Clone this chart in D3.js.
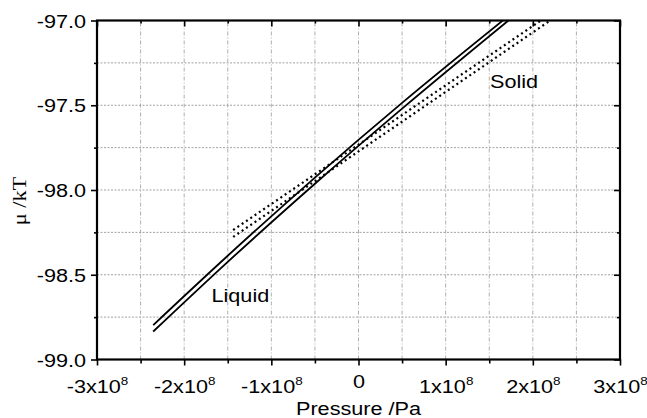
<!DOCTYPE html>
<html>
<head>
<meta charset="utf-8">
<script src="https://cdn.jsdelivr.net/npm/d3@7"></script>
<style>
  body { margin: 0; background: #fff; }
  text { font-family: "Liberation Sans", Arial, Helvetica, sans-serif; fill: #000; }
</style>
</head>
<body>
<div id="chart"></div>
<script>
// values (pressure in Pa, mu in kT)
const xMajor = [-3e8, -2e8, -1e8, 0, 1e8, 2e8, 3e8];
const xMinor = [-2.5e8, -1.5e8, -0.5e8, 0.5e8, 1.5e8, 2.5e8];
const yMajor = [-99.0, -98.5, -98.0, -97.5, -97.0];
const yMinor = [-98.75, -98.25, -97.75, -97.25];

const liquidUpperP = [-2.355e8, -1.5e8, -0.5e8, 0.5e8, 1.656e8];
const liquidUpperMu = [-98.797, -98.388, -97.927, -97.486, -97.0];
const liquidLowerP = [-2.355e8, -1.5e8, -0.5e8, 0.5e8, 1.72e8];
const liquidLowerMu = [-98.835, -98.424, -97.963, -97.52, -97.0];

const solidUpperP = [-1.438e8, 2.092e8];
const solidUpperMu = [-98.236, -97.0];
const solidLowerP = [-1.438e8, 2.2e8];
const solidLowerMu = [-98.277, -97.0];

const W = 647, H = 418;
const margin = { top: 20.5, left: 97, right: 27, bottom: 58.5 };
const sx = 1.17; // wide lettering of the original

const svg = d3.select('#chart').append('svg')
    .attr('width', W)
    .attr('height', H);

const x = d3.scaleLinear().domain([-3e8, 3e8]).range([margin.left, W - margin.right]);
const y = d3.scaleLinear().domain([-99, -97]).range([H - margin.bottom, margin.top]);

const x0 = x.range()[0], x1 = x.range()[1], y0 = y.range()[0], y1 = y.range()[1];

// grid
svg.append('g').selectAll('line')
  .data(yMinor.concat(yMajor.slice(1, -1)))
  .enter().append('line')
    .attr('x1', x0).attr('x2', x1)
    .attr('y1', d => y(d)).attr('y2', d => y(d))
    .attr('stroke', '#8a8a8a').attr('stroke-width', 0.8)
    .attr('stroke-dasharray', '2,1.5');

svg.append('g').selectAll('line')
  .data(xMinor.concat(xMajor.slice(1, -1)))
  .enter().append('line')
    .attr('x1', d => x(d)).attr('x2', d => x(d))
    .attr('y1', y0).attr('y2', y1)
    .attr('stroke', '#9a9a9a').attr('stroke-width', 0.8)
    .attr('stroke-dasharray', '4,2,1,2');

// curves
svg.append('clipPath').attr('id', 'clip')
  .append('rect').attr('x', x0).attr('y', y1).attr('width', x1 - x0).attr('height', y0 - y1);

const line = d3.line().x(d => x(d[0])).y(d => y(d[1])).curve(d3.curveMonotoneX);
const zip = (a, b) => a.map((v, i) => [v, b[i]]);

const curves = [
  { pts: zip(liquidUpperP, liquidUpperMu), dash: null },
  { pts: zip(liquidLowerP, liquidLowerMu), dash: null },
  { pts: zip(solidUpperP, solidUpperMu), dash: '2,3.2' },
  { pts: zip(solidLowerP, solidLowerMu), dash: '2,3.2' }
];

svg.append('g').attr('clip-path', 'url(#clip)')
  .selectAll('path').data(curves)
  .enter().append('path')
    .attr('d', d => line(d.pts))
    .attr('fill', 'none')
    .attr('stroke', '#000')
    .attr('stroke-width', d => d.dash ? 2.2 : 1.8)
    .attr('stroke-dasharray', d => d.dash);

// axes
function plain(g) {
  g.select('.domain').remove();
  g.selectAll('line').attr('stroke', '#000').attr('stroke-width', 1.6);
}

svg.append('g').attr('transform', `translate(0,${y0})`)
  .call(d3.axisBottom(x).tickValues(xMinor).tickSize(4).tickFormat('')).call(plain);
const xAxis = svg.append('g').attr('transform', `translate(0,${y0})`)
  .call(d3.axisBottom(x).tickValues(xMajor).tickSize(6).tickFormat('')).call(plain);

xAxis.selectAll('.tick text').remove();
xAxis.selectAll('.tick').append('text')
    .attr('text-anchor', 'middle')
    .attr('font-size', 18.5)
    .attr('transform', `scale(${sx},1)`)
    .attr('y', d => d === 0 ? 28.8 : 33.8)
    .each(function (d) {
      const t = d3.select(this);
      if (d === 0) { t.text('0'); return; }
      t.append('tspan').text((d / 1e8) + 'x10');
      t.append('tspan').attr('font-size', 11.5).attr('dy', -8.5).text('8');
    });

svg.append('g').attr('transform', `translate(0,${y1})`)
  .call(d3.axisTop(x).tickValues(xMinor).tickSize(-3).tickFormat('')).call(plain);
svg.append('g').attr('transform', `translate(0,${y1})`)
  .call(d3.axisTop(x).tickValues(xMajor).tickSize(-6).tickFormat('')).call(plain);

svg.append('g').attr('transform', `translate(${x0},0)`)
  .call(d3.axisLeft(y).tickValues(yMinor).tickSize(3).tickFormat('')).call(plain);
const yAxis = svg.append('g').attr('transform', `translate(${x0},0)`)
  .call(d3.axisLeft(y).tickValues(yMajor).tickSize(6).tickFormat(d3.format('.1f'))).call(plain);
yAxis.selectAll('.tick text')
    .attr('font-size', 18.5)
    .attr('font-family', '"Liberation Sans", Arial, sans-serif')
    .attr('x', -11 / sx)
    .attr('dy', '0.36em')
    .attr('transform', `scale(${sx},1)`)
    .text(d => d3.format('.1f')(d).replace('−', '-'));

svg.append('g').attr('transform', `translate(${x1},0)`)
  .call(d3.axisRight(y).tickValues(yMinor).tickSize(-3).tickFormat('')).call(plain);
svg.append('g').attr('transform', `translate(${x1},0)`)
  .call(d3.axisRight(y).tickValues(yMajor).tickSize(-6).tickFormat('')).call(plain);

// frame
svg.append('rect')
    .attr('x', x0).attr('y', y1)
    .attr('width', x1 - x0).attr('height', y0 - y1)
    .attr('fill', 'none').attr('stroke', '#000').attr('stroke-width', 2.2);

// labels
function label(px, py, str, opts) {
  const g = svg.append('g')
      .attr('transform', `translate(${px},${py})${opts.rotate ? ' rotate(-90)' : ''} scale(${sx},1)`);
  g.append('text')
      .attr('text-anchor', opts.anchor || 'start')
      .attr('font-size', opts.size || 18.5)
      .style('font-family', opts.family || null)
      .text(str);
}

label(358.5, 414.5, 'Pressure /Pa', { anchor: 'middle' });
label(26, 201, 'μ /kT', { anchor: 'middle', rotate: true, size: 19, family: '"Liberation Serif", "Times New Roman", serif' });
label(211.5, 301.5, 'Liquid', {});
label(490, 87.5, 'Solid', {});
</script>
</body>
</html>
